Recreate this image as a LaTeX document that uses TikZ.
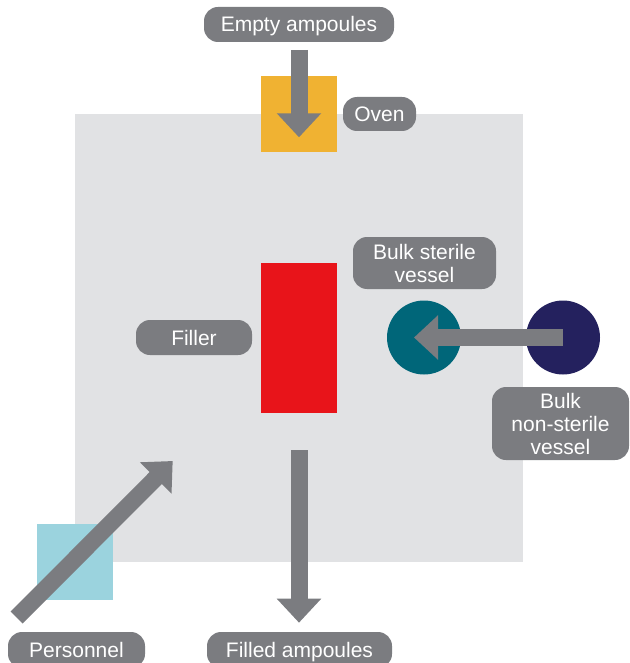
\documentclass[tikz,border=0pt]{standalone}
\usepackage{fontspec}
\setmainfont{Liberation Sans}
\usetikzlibrary{arrows.meta}
\definecolor{roomgray}{HTML}{E1E2E4}
\definecolor{ovencol}{HTML}{F0B232}
\definecolor{fillred}{HTML}{E8141A}
\definecolor{tealcol}{HTML}{006679}
\definecolor{navycol}{HTML}{24215E}
\definecolor{lightblue}{HTML}{9BD3DE}
\definecolor{lblgray}{HTML}{7B7C80}
\begin{document}
\begin{tikzpicture}[x=1pt,y=-1pt,
  lbl/.style={fill=lblgray, text=white, rounded corners=14pt, inner sep=0pt, align=center, font=\fontsize{21}{23}\selectfont},
  lblone/.style={lbl, text height=15pt, text depth=0pt},
  flow/.style={draw=lblgray, line width=17pt, -{Triangle[width=43pt,length=24pt]}},
  block/.style={inner sep=0pt, outer sep=0pt, draw=none}]
\useasboundingbox (0,0) rectangle (629,663);
% room
\node[block, fill=roomgray, minimum width=448pt, minimum height=448pt] (room) at (299,338) {};
% equipment
\node[block, fill=ovencol, minimum width=76pt, minimum height=76pt] (oven) at (299,114) {};
\node[block, fill=fillred, minimum width=76pt, minimum height=150pt] (filler) at (299,338) {};
\node[block, fill=lightblue, minimum width=76pt, minimum height=76pt] (gown) at (75,562) {};
\node[block, circle, fill=tealcol, minimum size=74pt] (sterile) at (424,337.5) {};
\node[block, circle, fill=navycol, minimum size=74pt] (nonsterile) at (563,337.5) {};
% arrow end points
\coordinate (e1) at (299,50);
\coordinate (e2) at (299,137.3);
\coordinate (f1) at (299,450);
\coordinate (f2) at (299,622.7);
\coordinate (p1) at (16.7,617.5);
\coordinate (p2) at (172.7,461);
\coordinate (b2) at (414,337.5);
% arrows
\draw[flow] (e1) -- (e2);
\draw[flow] (nonsterile.center) -- (b2);
\draw[flow] (f1) -- (f2);
\draw[flow] (p1) -- (p2);
% labels
\node[lblone, minimum width=190pt, minimum height=35pt] (lempty) at (299,24.5) {Empty ampoules};
\node[lblone, minimum width=73pt, minimum height=34pt] (loven) at (379.5,114) {Oven};
\node[lblone, minimum width=116pt, minimum height=35pt] (lfiller) at (194,337.5) {Filler};
\node[lbl, minimum width=143pt, minimum height=52pt] (lsterile) at (424.5,263) {Bulk sterile\\vessel};
\node[lbl, minimum width=137pt, minimum height=73pt] (lnonsterile) at (560.5,423.5) {Bulk\\non-sterile\\vessel};
\node[lblone, minimum width=185pt, minimum height=36pt] (lfilled) at (299.5,650) {Filled ampoules};
\node[lblone, minimum width=137pt, minimum height=36pt] (lpers) at (76.5,650) {Personnel};
\end{tikzpicture}
\end{document}
